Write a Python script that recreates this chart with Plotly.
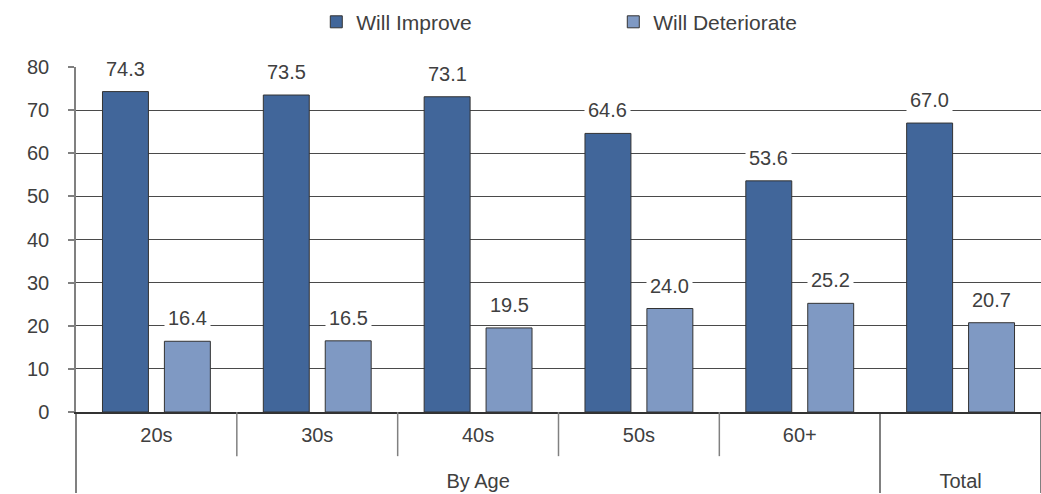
import plotly.graph_objects as go

# Outer and inner category levels for the x axis
groups = ["By Age", "By Age", "By Age", "By Age", "By Age", "Total"]
ages = ["20s", "30s", "40s", "50s", "60+", " "]

# Survey shares (%)
will_improve = [74.3, 73.5, 73.1, 64.6, 53.6, 67.0]
will_deteriorate = [16.4, 16.5, 19.5, 24.0, 25.2, 20.7]

series_names = ["Will Improve", "Will Deteriorate"]
series_values = [will_improve, will_deteriorate]
series_colors = ["#41669A", "#7F99C3"]

FONT = "Liberation Sans, Arial, sans-serif"
TEXT_COLOR = "#404040"
GRID_COLOR = "#4a4a4a"

# Inner labels get an empty second line so the group row sits lower
inner_labels = [a + "<br> " for a in ages]

fig = go.Figure()
for name, vals, color in zip(series_names, series_values, series_colors):
    fig.add_trace(go.Bar(
        name=name,
        x=[groups, inner_labels],
        y=vals,
        marker=dict(color=color, line=dict(color="#333333", width=1)),
    ))

# Value labels with a white box that interrupts the gridlines
bar_offset = 0.1925  # half of a bar slot, in category units
for k, vals in enumerate(series_values):
    sign = -1 if k == 0 else 1
    for i, v in enumerate(vals):
        fig.add_annotation(
            x=i + sign * bar_offset, y=v, xref="x", yref="y",
            text=f"{v:.1f}", showarrow=False,
            yanchor="middle", yshift=23,
            bgcolor="white", borderpad=3,
            font=dict(family=FONT, size=20, color=TEXT_COLOR),
        )

# Short separators between the age categories
for i in range(len(ages) - 2):
    fig.add_shape(
        type="line", xref="x", yref="paper",
        x0=i + 0.5, x1=i + 0.5, y0=0, y1=-0.128,
        line=dict(color="#808080", width=1.5),
    )

fig.update_layout(
    width=1041, height=494,
    margin=dict(l=76, r=0, t=67, b=82),
    paper_bgcolor="white", plot_bgcolor="white",
    barmode="group", bargap=0.23, bargroupgap=0.258,
    font=dict(family=FONT, size=20, color=TEXT_COLOR),
    showlegend=True,
    legend=dict(
        orientation="h", x=0.249, xanchor="left", y=1.13, yanchor="middle",
        entrywidth=252, font=dict(size=21, color=TEXT_COLOR),
        bgcolor="rgba(0,0,0,0)",
    ),
)

fig.update_yaxes(
    range=[0, 80], dtick=10, showgrid=True, gridcolor=GRID_COLOR, gridwidth=1,
    showline=True, linecolor="#808080", linewidth=1.5,
    ticks="outside", ticklen=6, tickcolor="#808080", tickwidth=1.5,
    ticklabelstandoff=15, zeroline=False,
    tickfont=dict(family=FONT, size=20, color=TEXT_COLOR),
)
fig.update_xaxes(
    type="multicategory", showline=True, linecolor="#333333", linewidth=1.5,
    ticks="", showdividers=True, dividercolor="#808080", dividerwidth=1.5,
    ticklabelstandoff=4,
    tickfont=dict(family=FONT, size=20, color=TEXT_COLOR),
)

fig.write_html("out.html")
